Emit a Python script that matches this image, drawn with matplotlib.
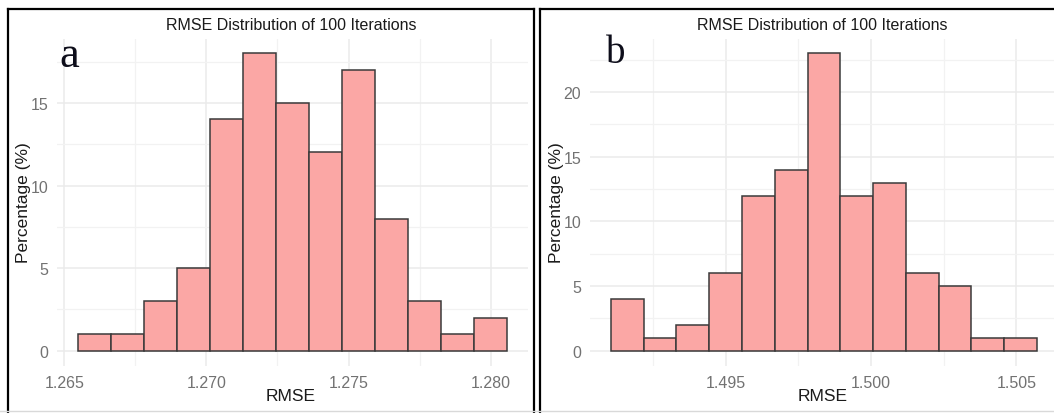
import matplotlib
matplotlib.use("Agg")
import matplotlib.pyplot as plt
from matplotlib.lines import Line2D

# Histogram data (percent of 100 iterations per bin)
a_edges = [1.26550, 1.26666, 1.26782, 1.26898, 1.27013, 1.27129, 1.27245,
           1.27361, 1.27477, 1.27593, 1.27709, 1.27825, 1.27940, 1.28056]
a_pct = [1, 1, 3, 5, 14, 18, 15, 12, 17, 8, 3, 1, 2]
a_xticks = [1.265, 1.270, 1.275, 1.280]
a_xminor = [1.2675, 1.2725, 1.2775]
a_yticks = [0, 5, 10, 15]

b_edges = [1.49106, 1.49219, 1.49331, 1.49444, 1.49557, 1.49669, 1.49782,
           1.49895, 1.50007, 1.50120, 1.50233, 1.50345, 1.50458, 1.50570]
b_pct = [4, 1, 2, 6, 12, 14, 23, 12, 13, 6, 5, 1, 1]
b_xticks = [1.495, 1.500, 1.505]
b_xminor = [1.4925, 1.4975, 1.5025]
b_yticks = [0, 5, 10, 15, 20]

title = "RMSE Distribution of 100 Iterations"

W, H = 1054, 414
plt.rcParams['font.family'] = ['Liberation Sans', 'DejaVu Sans']

fig = plt.figure(figsize=(W / 100, H / 100), dpi=100)
fig.patch.set_facecolor('white')


def fx(x):
    return x / W


def fy(y):
    return 1 - y / H


def hist_panel(box, edges, pct, xticks, xminor, yticks, letter, letter_xy, letter_size, cx):
    x0, x1, y0, y1 = box
    ax = fig.add_axes([fx(x0), fy(y1), fx(x1) - fx(x0), (y1 - y0) / H])
    widths = [edges[i + 1] - edges[i] for i in range(len(pct))]
    ax.bar(edges[:-1], pct, width=widths, align='edge', color='#fba7a5',
           edgecolor='#3a3a3a', linewidth=1.1, zorder=3)
    span = edges[-1] - edges[0]
    ax.set_xlim(edges[0] - 0.05 * span, edges[-1] + 0.05 * span)
    ymax = max(pct)
    ax.set_ylim(-0.05 * ymax, 1.05 * ymax)
    ax.set_xticks(xticks)
    ax.set_xticklabels([f"{t:.3f}" for t in xticks])
    ax.set_xticks(xminor, minor=True)
    ax.set_yticks(yticks)
    ax.set_yticks([t + 2.5 for t in yticks if t + 2.5 < 1.05 * ymax], minor=True)
    ax.grid(True, which='major', color='#ebebeb', linewidth=1.1, zorder=0)
    ax.grid(True, which='minor', color='#f2f2f2', linewidth=0.9, zorder=0)
    ax.tick_params(which='both', length=0)
    ax.tick_params(axis='x', pad=7, labelsize=11.5, labelcolor='#727272')
    ax.tick_params(axis='y', pad=6, labelsize=11.5, labelcolor='#727272')
    for s in ax.spines.values():
        s.set_visible(False)
    ax.set_axisbelow(True)

    fig.text(fx(cx), fy(25), title, ha='center', va='center', fontsize=11.5,
             color='#1a1a1a')
    fig.text(fx(cx), fy(397), "RMSE", ha='center', va='center', fontsize=12.5,
             color='#1a1a1a')
    fig.text(fx(box[0] - 33), fy(203), "Percentage (%)", ha='center', va='center',
             rotation=90, fontsize=12.5, color='#1a1a1a')
    fig.text(fx(letter_xy[0]), fy(letter_xy[1]), letter, ha='center', va='baseline',
             fontsize=letter_size, family='Liberation Serif', color='#0d0d1a')
    return ax


hist_panel((57, 528, 39.5, 366.6), a_edges, a_pct, a_xticks, a_xminor, a_yticks,
           'a', (69, 67), 32, 291)
hist_panel((589.7, 1057.9, 39.5, 366.6), b_edges, b_pct, b_xticks, b_xminor, b_yticks,
           'b', (616, 63), 28, 822.5)

# black frames around each panel, and the faint line at the bottom
frame = dict(color='black', linewidth=1.6)
for xs, ys in [([8, 8], [10, 414]), ([8, 533.5], [10, 10]), ([533.5, 533.5], [10, 414]),
               ([539.5, 539.5], [10, 414]), ([539.5, 1054], [10, 10])]:
    fig.add_artist(Line2D([fx(x) for x in xs], [fy(y) for y in ys], **frame))
fig.add_artist(Line2D([0, 1], [fy(412), fy(412)], color='#d9d9d9', linewidth=1))

fig.savefig("out.png", dpi=100)
